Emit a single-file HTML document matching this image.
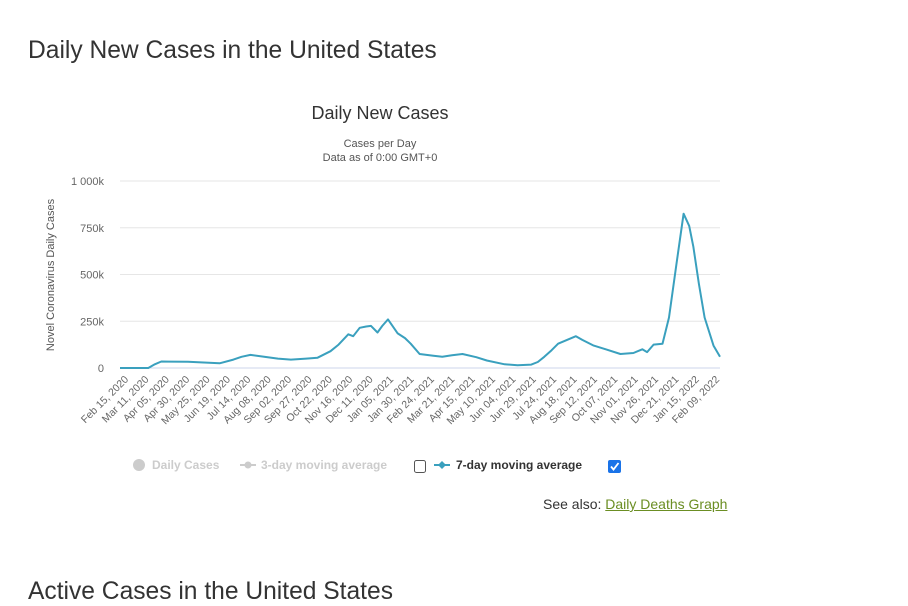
<!DOCTYPE html>
<html><head><meta charset="utf-8">
<style>
body{margin:0;background:#fff;font-family:"Liberation Sans",sans-serif;width:908px;height:603px;overflow:hidden;position:relative}
h2{position:absolute;left:28px;margin:0;font-weight:normal;font-size:24.6px;color:#333}
.seealso{position:absolute;left:543px;top:496px;font-size:14px;color:#333}
.seealso a{color:#6b8e23;text-decoration:underline}
</style></head><body>
<h2 style="top:37px">Daily New Cases in the United States</h2>
<svg id="chart" width="908" height="603" style="position:absolute;left:0;top:0"></svg>
<div class="seealso">See also: <a>Daily Deaths Graph</a></div>
<h2 style="top:578px">Active Cases in the United States</h2>
<script>
const dayOffsets=[0,35,43,51,60,84,100,123,140,150,161,178,195,211,230,244,260,270,282,288,296,304,310,318,324,331,343,352,359,370,387,398,410,423,440,453,475,491,508,516,524,533,541,552,563,571,585,600,618,634,645,651,659,670,678,687,696,703,708,715,722,733,741];
const cases=[0,0,20000,35000,34000,33000,30000,25000,45000,60000,70000,60000,50000,45000,50000,55000,90000,125000,180000,170000,215000,222000,225000,190000,225000,260000,185000,160000,130000,75000,65000,60000,68000,75000,58000,40000,20000,15000,18000,32000,60000,95000,130000,150000,170000,150000,120000,100000,75000,80000,100000,85000,125000,130000,270000,550000,825000,760000,650000,450000,270000,120000,60000];
const yTicks=[0,250000,500000,750000,1000000];
const yTickLabels=["0","250k","500k","750k","1 000k"];
const xTickLabels=["Feb 15, 2020","Mar 11, 2020","Apr 05, 2020","Apr 30, 2020","May 25, 2020","Jun 19, 2020","Jul 14, 2020","Aug 08, 2020","Sep 02, 2020","Sep 27, 2020","Oct 22, 2020","Nov 16, 2020","Dec 11, 2020","Jan 05, 2021","Jan 30, 2021","Feb 24, 2021","Mar 21, 2021","Apr 15, 2021","May 10, 2021","Jun 04, 2021","Jun 29, 2021","Jul 24, 2021","Aug 18, 2021","Sep 12, 2021","Oct 07, 2021","Nov 01, 2021","Nov 26, 2021","Dec 21, 2021","Jan 15, 2022","Feb 09, 2022"];
const NS="http://www.w3.org/2000/svg";
const svg=document.getElementById('chart');
const X0=120,X1=720,Y0=368,Y1=181;
const xs=d=>X0+d*(X1-X0)/741;
const ys=v=>Y0-v*(Y0-Y1)/1000000;
function mk(t,a,txt){const e=document.createElementNS(NS,t);for(const k in a)e.setAttribute(k,a[k]);if(txt!==undefined)e.textContent=txt;svg.appendChild(e);return e;}
function txt(x,y,s,size,fill,anchor,extra){const e=mk('text',{x:x,y:y,'font-size':size,fill:fill,'text-anchor':anchor||'start','font-family':'Liberation Sans, sans-serif'},s);if(extra)for(const k in extra)e.setAttribute(k,extra[k]);return e;}
let t=txt(380,119,'Daily New Cases',18,'#333','middle');

t=txt(380,147,'Cases per Day',11,'#555','middle');

t=txt(380,161,'Data as of 0:00 GMT+0',11,'#555','middle');

t=txt(0,0,'Novel Coronavirus Daily Cases',11,'#555','middle',{transform:'translate(54,275) rotate(-90)'});

yTicks.forEach((v,i)=>{
  const g=mk('line',{x1:X0,x2:X1,y1:ys(v),y2:ys(v),stroke:i===0?'#ccd6eb':'#e6e6e6','stroke-width':1});
  
  const l=txt(104,ys(v)+4,yTickLabels[i],11,'#666','end');
  
});
xTickLabels.forEach((s,i)=>{
  const x=xs(25*i*741/736)+9;
  const l=txt(0,0,s,10.5,'#666','end',{transform:`translate(${x},380) rotate(-45)`});
  
});
const pts=dayOffsets.map((d,i)=>xs(d).toFixed(1)+','+ys(cases[i]).toFixed(1)).join(' ');
const line=mk('polyline',{points:pts,fill:'none',stroke:'#3aa0be','stroke-width':2,'stroke-linejoin':'round'});

let c=mk('circle',{cx:139,cy:465,r:6,fill:'#ccc'});

t=txt(152,469,'Daily Cases',12,'#ccc','start',{'font-weight':'bold'});

mk('line',{x1:240,x2:256,y1:465,y2:465,stroke:'#ccc','stroke-width':2});
c=mk('circle',{cx:248,cy:465,r:3.5,fill:'#ccc'});

t=txt(261,469,'3-day moving average',12,'#ccc','start',{'font-weight':'bold'});

let r=mk('rect',{x:414.5,y:460.5,width:11,height:12,rx:2,fill:'#fff',stroke:'#555'});

mk('line',{x1:434,x2:450,y1:465,y2:465,stroke:'#3aa0be','stroke-width':2});
c=mk('path',{d:'M442 461 L446 465 L442 469 L438 465 Z',fill:'#3aa0be'});

t=txt(456,469,'7-day moving average',12,'#333','start',{'font-weight':'bold'});

r=mk('rect',{x:608,y:460,width:13,height:13,rx:2,fill:'#1a73e8'});

mk('path',{d:'M611 466.5 L613.5 469.5 L618.5 463',fill:'none',stroke:'#fff','stroke-width':1.8});
</script>
</body></html>
